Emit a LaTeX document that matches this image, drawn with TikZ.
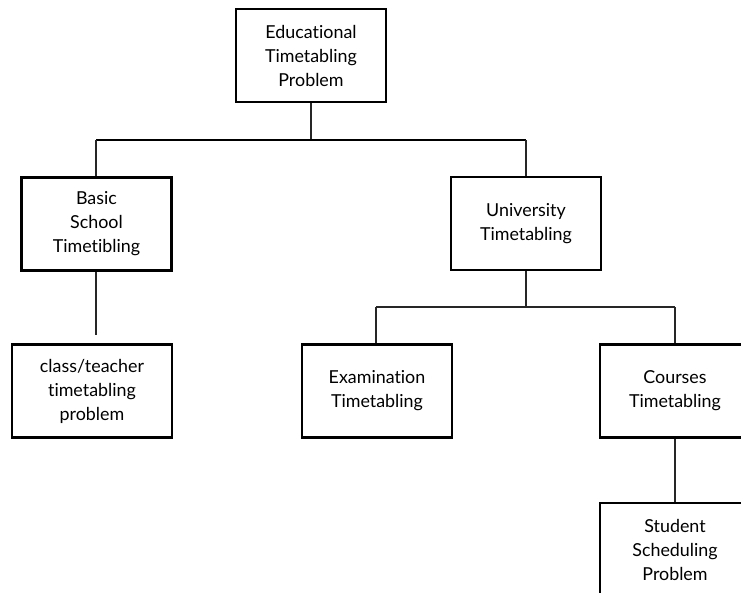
\documentclass[tikz,border=0pt]{standalone}
\usepackage{fontspec}
\setmainfont{Lato}[Ligatures=NoCommon]
\begin{document}
\begin{tikzpicture}[x=0.75pt,y=-0.75pt,
  box/.style={draw=black,line width=1.6pt,rectangle,minimum width=150*0.75pt,minimum height=93*0.75pt,inner sep=0pt,align=center,font=\fontsize{13.4pt}{18pt}\selectfont},
  conn/.style={draw=black!85,line width=0.8pt},
  thickconn/.style={draw=black,line width=1.6pt}]
\useasboundingbox (0,0) rectangle (741,592);
\clip (0,0) rectangle (741,592);
\node[box] (top) at (311,55.5) {Educational\\Timetabling\\Problem};
\node[box] (basic) at (96.5,224) {Basic\\School\\Timetibling};
\node[box] (univ) at (526,223.5) {University\\Timetabling};
\node[box,minimum width=160*0.75pt] (class) at (92,391) {class/teacher\\timetabling\\problem};
\node[box] (exam) at (377,391) {Examination\\Timetabling};
\node[box] (courses) at (675,391) {Courses\\Timetabling};
\node[box] (student) at (675,549.5) {Student\\Scheduling\\Problem};
\coordinate (j1) at (311,140);
\coordinate (j1l) at (96,140);
\coordinate (j1r) at (526,140);
\coordinate (bend) at (96,335);
\coordinate (j2) at (526,307);
\coordinate (j2l) at (376,307);
\coordinate (j2r) at (675,307);
\draw[conn] (top.south) -- (j1);
\draw[thickconn] (j1l) -- (j1r);
\draw[conn] (j1l) -- (basic.north -| j1l);
\draw[conn] (j1r) -- (univ.north -| j1r);
\draw[conn] (basic.south -| bend) -- (bend);
\draw[conn] (univ.south) -- (j2);
\draw[conn] (j2l) -- (j2r);
\draw[conn] (j2l) -- (exam.north -| j2l);
\draw[conn] (j2r) -- (courses.north);
\draw[conn] (courses.south) -- (student.north);
\end{tikzpicture}
\end{document}
